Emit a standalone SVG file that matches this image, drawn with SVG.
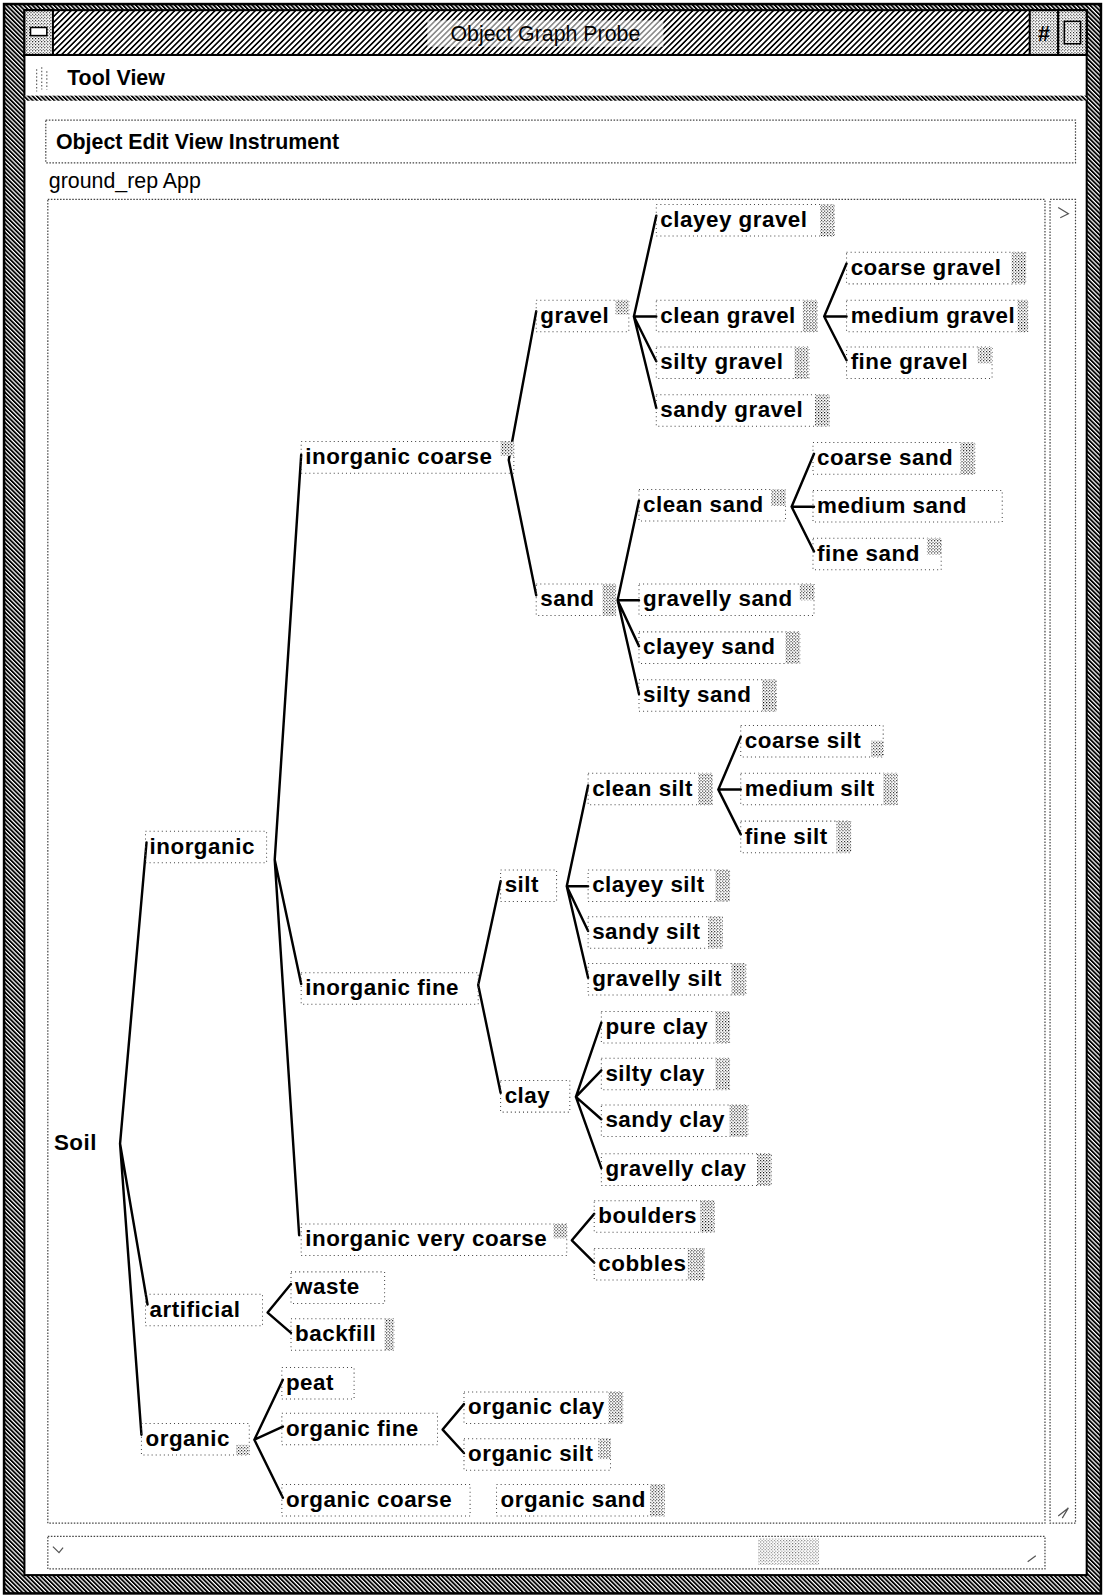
<svg xmlns="http://www.w3.org/2000/svg" width="1105" height="1595" viewBox="0 0 1105 1595">
<defs>
<pattern id="hatch" width="4" height="4" patternUnits="userSpaceOnUse" patternTransform="rotate(45)"><rect width="4" height="4" fill="#fff"/><rect width="1.6" height="4" fill="#000"/></pattern>
<pattern id="dhatch" width="3" height="3" patternUnits="userSpaceOnUse" patternTransform="rotate(-45)"><rect width="3" height="3" fill="#fff"/><rect width="1.8" height="3" fill="#000"/></pattern>
<pattern id="stip" width="3" height="3" patternUnits="userSpaceOnUse"><rect width="3" height="3" fill="#fff"/><rect width="1" height="1" fill="#000"/><rect x="1.5" y="1.5" width="1" height="1" fill="#000"/></pattern>
</defs>
<style>
.lbl{font-family:"Liberation Sans",Arial,sans-serif;font-weight:bold;font-size:22px;letter-spacing:0.5px;fill:#000}
.ui{font-family:"Liberation Sans",Arial,sans-serif;font-size:21px;fill:#000}
.uib{font-family:"Liberation Sans",Arial,sans-serif;font-weight:bold;font-size:21px;fill:#000}
.box{fill:none;stroke:#444;stroke-width:1;stroke-dasharray:1 3}
.frm{fill:none;stroke:#444;stroke-width:1.2;stroke-dasharray:1.5 1.5}
.shade{fill:url(#stip)}
.conn path{stroke:#000;stroke-width:2.4;fill:none;stroke-linecap:round}
</style>
<rect width="1105" height="1595" fill="#fff"/>
<g transform="scale(1.0175)">
<g id="chrome">
<rect x="4" y="4" width="1078" height="1562" fill="url(#dhatch)"/>
<rect x="24" y="54" width="1044" height="1494" fill="#fff"/>
<rect x="4" y="4" width="1078" height="1562" fill="none" stroke="#000" stroke-width="2.5"/>
<rect x="24" y="54" width="1044" height="1494" fill="none" stroke="#000" stroke-width="2"/>
<rect x="24" y="10" width="1044" height="44" fill="url(#hatch)" stroke="#000" stroke-width="2"/>
<rect x="24" y="10" width="28" height="44" fill="url(#stip)" stroke="#000" stroke-width="2"/>
<rect x="30" y="27" width="16" height="8" fill="#fff" stroke="#000" stroke-width="1.5"/>
<rect x="1012" y="10" width="28" height="44" fill="url(#stip)" stroke="#000" stroke-width="2"/>
<text x="1026" y="40" class="uib" text-anchor="middle" font-size="14">#</text>
<rect x="1040" y="10" width="28" height="44" fill="url(#stip)" stroke="#000" stroke-width="2"/>
<rect x="1046" y="21" width="16" height="22" fill="none" stroke="#000" stroke-width="1.5"/>
<rect x="420" y="20" width="232" height="26" fill="#fff" opacity="0.55"/>
<text x="536" y="40" class="ui" text-anchor="middle">Object Graph Probe</text>
<path d="M36 68v22M41 66v22M46 70v18" stroke="#666" stroke-width="1.2" stroke-dasharray="1.5 2"/>
<text x="66" y="84" class="uib">Tool View</text>
<rect x="24" y="94" width="1044" height="5" fill="url(#dhatch)"/>
<rect x="45" y="118" width="1012" height="42" class="frm"/>
<text x="55" y="146" class="uib">Object Edit View Instrument</text>
<text x="48" y="185" class="ui">ground_rep App</text>
<rect x="47" y="196" width="980" height="1301" class="frm"/>
<rect x="1032" y="196" width="25" height="1301" class="frm"/>
<path d="M1040 204l10 6-8 4M1040 1490l10-8-6 10" stroke="#555" stroke-width="1.2" fill="none"/>
<rect x="47" y="1510" width="980" height="32" class="frm"/>
<rect x="745" y="1512" width="60" height="26" fill="url(#stip)" opacity="0.6"/>
<path d="M52 1520l6 6 4-5M1010 1535l8-6" stroke="#555" stroke-width="1.2" fill="none"/>
</g>
<g class="conn" id="connectors">
<path d="M118 1124L144 828M118 1124L145 1282M118 1124L139 1410"/>
<path d="M270 845L296 447M270 845L296 967M270 845L294 1214"/>
<path d="M500 452L527 306M500 452L527 585"/>
<path d="M623 311L645 212M623 311L645 311M623 311L645 355M623 311L645 401"/>
<path d="M810 311L832 259M810 311L832 311M810 311L832 354"/>
<path d="M607 590L628 492M607 590L628 590M607 590L628 635M607 590L628 682"/>
<path d="M778 498L800 446M778 498L800 498M778 498L800 542"/>
<path d="M470 968L492 866M470 968L492 1074"/>
<path d="M557 871L578 772M557 871L578 871M557 871L578 915M557 871L578 961"/>
<path d="M706 776L728 724M706 776L728 776M706 776L728 820"/>
<path d="M566 1078L591 1005M566 1078L591 1052M566 1078L591 1100M566 1078L591 1148"/>
<path d="M562 1219L584 1193M562 1219L584 1241"/>
<path d="M263 1290L286 1262M263 1290L286 1310"/>
<path d="M250 1415L278 1356M250 1415L278 1402M250 1415L278 1472"/>
<path d="M435 1405L456 1380M435 1405L456 1428"/>
</g>
<g id="n-soil"><text x="53" y="1130" class="lbl">Soil</text></g>
<g id="n-inorganic"><rect x="143" y="817" width="119" height="31" class="box"/><text x="147" y="839" class="lbl">inorganic</text></g>
<g id="n-artificial"><rect x="143" y="1272" width="115" height="31" class="box"/><text x="147" y="1294" class="lbl">artificial</text></g>
<g id="n-organic"><rect x="139" y="1399" width="106" height="31" class="box"/><rect x="232" y="1420" width="13" height="10" class="shade"/><text x="143" y="1421" class="lbl">organic</text></g>
<g id="n-inorganic-coarse"><rect x="296" y="434" width="209" height="31" class="box"/><rect x="492" y="434" width="13" height="14" class="shade"/><text x="300" y="456" class="lbl">inorganic coarse</text></g>
<g id="n-inorganic-fine"><rect x="296" y="956" width="174" height="31" class="box"/><text x="300" y="978" class="lbl">inorganic fine</text></g>
<g id="n-inorganic-very-coarse"><rect x="296" y="1203" width="261" height="31" class="box"/><rect x="544" y="1203" width="13" height="14" class="shade"/><text x="300" y="1225" class="lbl">inorganic very coarse</text></g>
<g id="n-gravel"><rect x="527" y="295" width="91" height="31" class="box"/><rect x="605" y="295" width="13" height="14" class="shade"/><text x="531" y="317" class="lbl">gravel</text></g>
<g id="n-sand"><rect x="527" y="574" width="78" height="31" class="box"/><rect x="592" y="574" width="13" height="31" class="shade"/><text x="531" y="596" class="lbl">sand</text></g>
<g id="n-clayey-gravel"><rect x="645" y="201" width="175" height="31" class="box"/><rect x="806" y="201" width="14" height="31" class="shade"/><text x="649" y="223" class="lbl">clayey gravel</text></g>
<g id="n-clean-gravel"><rect x="645" y="295" width="158" height="31" class="box"/><rect x="789" y="295" width="14" height="31" class="shade"/><text x="649" y="317" class="lbl">clean gravel</text></g>
<g id="n-silty-gravel"><rect x="645" y="341" width="150" height="31" class="box"/><rect x="781" y="341" width="14" height="31" class="shade"/><text x="649" y="363" class="lbl">silty gravel</text></g>
<g id="n-sandy-gravel"><rect x="645" y="388" width="170" height="31" class="box"/><rect x="801" y="388" width="14" height="31" class="shade"/><text x="649" y="410" class="lbl">sandy gravel</text></g>
<g id="n-coarse-gravel"><rect x="832" y="248" width="176" height="31" class="box"/><rect x="994" y="248" width="14" height="31" class="shade"/><text x="836" y="270" class="lbl">coarse gravel</text></g>
<g id="n-medium-gravel"><rect x="832" y="295" width="178" height="31" class="box"/><rect x="1000" y="295" width="10" height="31" class="shade"/><text x="836" y="317" class="lbl">medium gravel</text></g>
<g id="n-fine-gravel"><rect x="832" y="341" width="143" height="31" class="box"/><rect x="961" y="341" width="14" height="16" class="shade"/><text x="836" y="363" class="lbl">fine gravel</text></g>
<g id="n-clean-sand"><rect x="628" y="481" width="144" height="31" class="box"/><rect x="758" y="481" width="14" height="16" class="shade"/><text x="632" y="503" class="lbl">clean sand</text></g>
<g id="n-gravelly-sand"><rect x="628" y="574" width="172" height="31" class="box"/><rect x="786" y="574" width="14" height="16" class="shade"/><text x="632" y="596" class="lbl">gravelly sand</text></g>
<g id="n-clayey-sand"><rect x="628" y="621" width="158" height="31" class="box"/><rect x="772" y="621" width="14" height="31" class="shade"/><text x="632" y="643" class="lbl">clayey sand</text></g>
<g id="n-silty-sand"><rect x="628" y="668" width="135" height="31" class="box"/><rect x="749" y="668" width="14" height="31" class="shade"/><text x="632" y="690" class="lbl">silty sand</text></g>
<g id="n-coarse-sand"><rect x="799" y="435" width="159" height="31" class="box"/><rect x="944" y="435" width="14" height="31" class="shade"/><text x="803" y="457" class="lbl">coarse sand</text></g>
<g id="n-medium-sand"><rect x="799" y="482" width="186" height="31" class="box"/><text x="803" y="504" class="lbl">medium sand</text></g>
<g id="n-fine-sand"><rect x="799" y="529" width="126" height="31" class="box"/><rect x="911" y="529" width="14" height="16" class="shade"/><text x="803" y="551" class="lbl">fine sand</text></g>
<g id="n-silt"><rect x="492" y="855" width="55" height="31" class="box"/><text x="496" y="877" class="lbl">silt</text></g>
<g id="n-clay"><rect x="492" y="1062" width="68" height="31" class="box"/><text x="496" y="1084" class="lbl">clay</text></g>
<g id="n-clean-silt"><rect x="578" y="760" width="122" height="31" class="box"/><rect x="686" y="760" width="14" height="31" class="shade"/><text x="582" y="782" class="lbl">clean silt</text></g>
<g id="n-clayey-silt"><rect x="578" y="855" width="139" height="31" class="box"/><rect x="703" y="855" width="14" height="31" class="shade"/><text x="582" y="877" class="lbl">clayey silt</text></g>
<g id="n-sandy-silt"><rect x="578" y="901" width="132" height="31" class="box"/><rect x="696" y="901" width="14" height="31" class="shade"/><text x="582" y="923" class="lbl">sandy silt</text></g>
<g id="n-gravelly-silt"><rect x="578" y="947" width="155" height="31" class="box"/><rect x="719" y="947" width="14" height="31" class="shade"/><text x="582" y="969" class="lbl">gravelly silt</text></g>
<g id="n-coarse-silt"><rect x="728" y="713" width="140" height="31" class="box"/><rect x="856" y="728" width="12" height="16" class="shade"/><text x="732" y="735" class="lbl">coarse silt</text></g>
<g id="n-medium-silt"><rect x="728" y="760" width="154" height="31" class="box"/><rect x="868" y="760" width="14" height="31" class="shade"/><text x="732" y="782" class="lbl">medium silt</text></g>
<g id="n-fine-silt"><rect x="728" y="807" width="108" height="31" class="box"/><rect x="822" y="807" width="14" height="31" class="shade"/><text x="732" y="829" class="lbl">fine silt</text></g>
<g id="n-pure-clay"><rect x="591" y="994" width="126" height="31" class="box"/><rect x="703" y="994" width="14" height="31" class="shade"/><text x="595" y="1016" class="lbl">pure clay</text></g>
<g id="n-silty-clay"><rect x="591" y="1040" width="126" height="31" class="box"/><rect x="703" y="1040" width="14" height="31" class="shade"/><text x="595" y="1062" class="lbl">silty clay</text></g>
<g id="n-sandy-clay"><rect x="591" y="1086" width="144" height="31" class="box"/><rect x="717" y="1086" width="18" height="31" class="shade"/><text x="595" y="1108" class="lbl">sandy clay</text></g>
<g id="n-gravelly-clay"><rect x="591" y="1134" width="167" height="31" class="box"/><rect x="744" y="1134" width="14" height="31" class="shade"/><text x="595" y="1156" class="lbl">gravelly clay</text></g>
<g id="n-boulders"><rect x="584" y="1180" width="118" height="31" class="box"/><rect x="688" y="1180" width="14" height="31" class="shade"/><text x="588" y="1202" class="lbl">boulders</text></g>
<g id="n-cobbles"><rect x="584" y="1227" width="108" height="31" class="box"/><rect x="676" y="1227" width="16" height="31" class="shade"/><text x="588" y="1249" class="lbl">cobbles</text></g>
<g id="n-waste"><rect x="286" y="1250" width="92" height="31" class="box"/><text x="290" y="1272" class="lbl">waste</text></g>
<g id="n-backfill"><rect x="286" y="1296" width="101" height="31" class="box"/><rect x="378" y="1296" width="9" height="31" class="shade"/><text x="290" y="1318" class="lbl">backfill</text></g>
<g id="n-peat"><rect x="277" y="1344" width="71" height="31" class="box"/><text x="281" y="1366" class="lbl">peat</text></g>
<g id="n-organic-fine"><rect x="277" y="1389" width="153" height="31" class="box"/><text x="281" y="1411" class="lbl">organic fine</text></g>
<g id="n-organic-coarse"><rect x="277" y="1459" width="185" height="31" class="box"/><text x="281" y="1481" class="lbl">organic coarse</text></g>
<g id="n-organic-clay"><rect x="456" y="1368" width="156" height="31" class="box"/><rect x="598" y="1368" width="14" height="31" class="shade"/><text x="460" y="1390" class="lbl">organic clay</text></g>
<g id="n-organic-silt"><rect x="456" y="1414" width="144" height="31" class="box"/><rect x="588" y="1414" width="12" height="20" class="shade"/><text x="460" y="1436" class="lbl">organic silt</text></g>
<g id="n-organic-sand"><rect x="488" y="1459" width="165" height="31" class="box"/><rect x="639" y="1459" width="14" height="31" class="shade"/><text x="492" y="1481" class="lbl">organic sand</text></g>
</g>
</svg>
